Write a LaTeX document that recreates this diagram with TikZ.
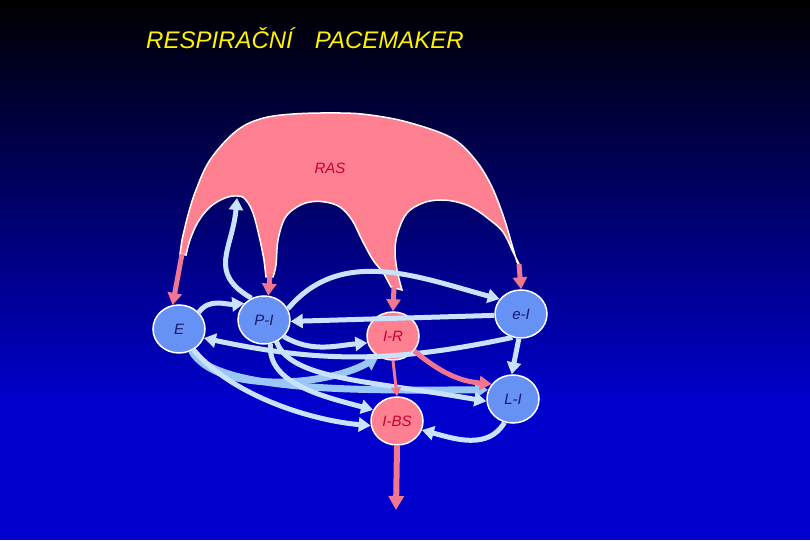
\documentclass[tikz,border=0pt]{standalone}
\usepackage{fontspec}
\setmainfont{Liberation Sans}
\usepackage{tikz}
\usetikzlibrary{arrows.meta,shapes.geometric}
\definecolor{bgblue}{RGB}{0,0,204}
\definecolor{nodeblue}{RGB}{102,145,245}
\definecolor{raspink}{RGB}{255,128,145}
\definecolor{arrpink}{RGB}{240,118,145}
\definecolor{lightarr}{RGB}{200,226,255}
\definecolor{bandarr}{RGB}{155,198,250}
\definecolor{navytxt}{RGB}{25,25,110}
\definecolor{redtxt}{RGB}{200,0,45}
\begin{document}
\begin{tikzpicture}[x=1pt, y=1pt,
  bnode/.style={ellipse, draw=white, line width=1.5pt, fill=nodeblue, minimum width=52pt, minimum height=48pt, inner sep=0pt, font=\fontsize{15}{15}\selectfont\itshape, text=navytxt},
  pnode/.style={bnode, fill=raspink, text=redtxt},
  blarrow/.style={draw=lightarr, line width=5pt, -{Triangle[length=12pt,width=14pt]}},
  bandarrow/.style={draw=bandarr, line width=7pt, -{Triangle[length=13pt,width=16pt]}},
  pkarrow/.style={draw=arrpink, line width=5pt, -{Triangle[length=12pt,width=14pt]}}]
% Background
\useasboundingbox (0,0) rectangle (810,540);
\fill[bgblue] (0,0) rectangle (810,140);
\shade[top color=black, bottom color=bgblue] (0,140) rectangle (810,540);
% Title
\node[anchor=west, inner sep=0pt, text=yellow, font=\fontsize{24}{24}\selectfont\itshape] (title) at (146,502) {RESPIRAČNÍ\hspace{22pt}PACEMAKER};
% RAS
\filldraw[fill=raspink, draw=white, line width=1.5pt] (180,286)
  -- plot[smooth, tension=0.6] coordinates {(182,300) (188,325) (196,350) (210,380) (235,408) (260,421) (293,426) (340,427) (370,425) (407,418) (450,403) (473,383) (490,357) (503,325) (512,295) (517,278)}
  -- (520,274)
  -- plot[smooth, tension=0.6] coordinates {(512,290) (503,308) (490,320) (473,332) (457,338) (440,340) (423,337) (407,327) (398,308) (395,290) (397,270) (402,250)}
  -- (391,253)
  -- plot[smooth, tension=0.6] coordinates {(383,268) (373,280) (362,300) (352,320) (340,333) (325,338) (310,338) (297,333) (285,322) (278,300) (276,275) (273,263)}
  -- (266,263)
  -- plot[smooth, tension=0.6] coordinates {(264,280) (260,300) (253,327) (245,341) (237,344) (225,342) (210,333) (198,318) (190,300) (186,285)}
  -- cycle;
\node[text=redtxt, font=\fontsize{15}{15}\selectfont\itshape] (ras) at (330,372) {RAS};
\coordinate (ras1) at (182,286);
\coordinate (ras2) at (270,266);
\coordinate (ras3) at (394,253);
\coordinate (ras4) at (519,276);
\coordinate (ras5) at (237,342);
\coordinate (out) at (396,30);
% Neurons
\node[bnode] (E) at (179,211) {E};
\node[bnode] (PI) at (264,220) {P-I};
\node[pnode] (IR) at (393,204) {I-R};
\node[bnode] (eI) at (521,226) {e-I};
\node[bnode] (LI) at (513,141) {L-I};
\node[pnode] (IBS) at (397,119) {I-BS};
% RAS outputs
\draw[pkarrow] (ras1) -- (E.105);
\draw[pkarrow] (ras2) -- (PI.80);
\draw[pkarrow] (ras3) -- (IR.north);
\draw[pkarrow] (ras4) -- (eI.north);
% Connections
\draw[bandarrow] (E.-60) .. controls +(-60:50) and +(180:110) .. (LI.160);
\draw[bandarrow] (E.-60) .. controls +(-60:50) and +(-150:60) .. (IR.235);
\draw[blarrow] (E.40) to[out=55, in=185] (PI.140);
\draw[blarrow] (PI.120) to[out=150, in=-95, looseness=1.3] (ras5);
\draw[blarrow] (PI.25) to[out=50, in=165] (eI.145);
\draw[blarrow] (eI.183) -- (PI.-3);
\draw[blarrow] (PI.-40) to[out=-30, in=185] (IR.195);
\draw[blarrow] (eI.250) to[out=192, in=-12] (E.-20);
\draw[blarrow] (PI.-60) .. controls +(-70:40) and +(170:120) .. (LI.185);
\draw[blarrow] (E.-55) .. controls +(-50:60) and +(175:60) .. (IBS.190);
\draw[blarrow] (PI.-75) .. controls +(-95:40) and +(165:50) .. (IBS.155);
\draw[blarrow] (eI.265) -- (LI.93);
\draw[pkarrow] (IR.-35) to[out=-40, in=175] (LI.145);
\draw[pkarrow, line width=3pt, -{Triangle[length=9pt,width=10pt]}] (IR.south) -- (IBS.north);
\draw[blarrow] (LI.-110) to[out=-120, in=-15] (IBS.-20);
\draw[pkarrow, line width=6pt, -{Triangle[length=14pt,width=15pt]}] (IBS.south) -- (out);
\end{tikzpicture}
\end{document}
